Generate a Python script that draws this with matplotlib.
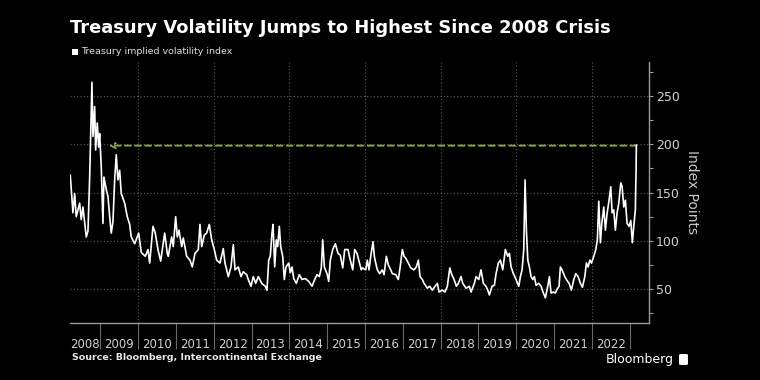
import matplotlib
matplotlib.use('Agg')
import matplotlib.pyplot as plt
from matplotlib.ticker import FixedLocator, NullFormatter, FixedFormatter
from matplotlib.patches import FancyBboxPatch, Rectangle

# ---- data (decimal year, index points) ----
years = [
    2008.207, 2008.278, 2008.323, 2008.365, 2008.455, 2008.497, 2008.542, 2008.630, 2008.675, 2008.720,
    2008.780, 2008.807, 2008.852, 2008.878, 2008.921, 2008.958, 2008.984, 2009.026, 2009.071, 2009.098,
    2009.159, 2009.204, 2009.249, 2009.291, 2009.336, 2009.381, 2009.423, 2009.468, 2009.513, 2009.555,
    2009.645, 2009.714, 2009.778, 2009.820, 2009.910, 2010.016, 2010.084, 2010.190, 2010.262, 2010.307,
    2010.394, 2010.455, 2010.526, 2010.598, 2010.703, 2010.772, 2010.799, 2010.888, 2010.931, 2010.994,
    2011.037, 2011.082, 2011.153, 2011.195, 2011.285, 2011.373, 2011.433, 2011.505, 2011.592, 2011.637,
    2011.682, 2011.751, 2011.814, 2011.883, 2011.947, 2012.015, 2012.079, 2012.166, 2012.253, 2012.298,
    2012.386, 2012.457, 2012.518, 2012.563, 2012.650, 2012.721, 2012.782, 2012.872, 2012.914, 2012.986,
    2013.047, 2013.110, 2013.179, 2013.269, 2013.364, 2013.409, 2013.454, 2013.496, 2013.541, 2013.568,
    2013.613, 2013.655, 2013.692, 2013.735, 2013.771, 2013.824, 2013.867, 2013.912, 2013.983, 2014.025,
    2014.070, 2014.115, 2014.184, 2014.264, 2014.335, 2014.422, 2014.512, 2014.599, 2014.671, 2014.731,
    2014.793, 2014.845, 2014.882, 2014.925, 2014.996, 2015.041, 2015.083, 2015.147, 2015.216, 2015.287,
    2015.348, 2015.412, 2015.464, 2015.551, 2015.612, 2015.676, 2015.729, 2015.790, 2015.835, 2015.903,
    2015.930, 2016.020, 2016.062, 2016.107, 2016.152, 2016.212, 2016.247, 2016.284, 2016.326, 2016.390,
    2016.459, 2016.504, 2016.565, 2016.618, 2016.681, 2016.723, 2016.813, 2016.882, 2016.927, 2016.988,
    2017.033, 2017.078, 2017.147, 2017.210, 2017.297, 2017.358, 2017.411, 2017.456, 2017.517, 2017.562,
    2017.649, 2017.713, 2017.781, 2017.853, 2017.914, 2017.959, 2018.046, 2018.117, 2018.178, 2018.242,
    2018.295, 2018.355, 2018.416, 2018.469, 2018.540, 2018.585, 2018.672, 2018.760, 2018.805, 2018.892,
    2018.937, 2019.008, 2019.069, 2019.130, 2019.201, 2019.246, 2019.289, 2019.360, 2019.421, 2019.466,
    2019.527, 2019.580, 2019.643, 2019.712, 2019.775, 2019.818, 2019.863, 2019.924, 2019.995, 2020.067,
    2020.109, 2020.154, 2020.198, 2020.233, 2020.268, 2020.305, 2020.347, 2020.392, 2020.437, 2020.479,
    2020.524, 2020.595, 2020.656, 2020.717, 2020.770, 2020.833, 2020.876, 2020.920, 2020.981, 2021.034,
    2021.079, 2021.132, 2021.167, 2021.211, 2021.283, 2021.326, 2021.397, 2021.458, 2021.521, 2021.574,
    2021.635, 2021.696, 2021.749, 2021.813, 2021.855, 2021.900, 2021.945, 2021.987, 2022.050, 2022.103,
    2022.145, 2022.182, 2022.225, 2022.262, 2022.314, 2022.357, 2022.401, 2022.454, 2022.499, 2022.534,
    2022.578, 2022.621, 2022.666, 2022.711, 2022.764, 2022.799, 2022.843, 2022.886, 2022.930, 2022.983,
    2023.028, 2023.070, 2023.107, 2023.149, 2023.168, 2023.176,
]
values = [
    168, 129, 149, 125, 139, 122, 135, 104, 110, 166,
    264, 208, 239, 194, 222, 197, 211, 177, 118, 166,
    153, 146, 125, 108, 120, 163, 189, 163, 173, 149,
    139, 125, 117, 104, 97, 108, 88, 84, 91, 77,
    115, 108, 91, 79, 108, 87, 84, 104, 94, 125,
    104, 111, 94, 103, 84, 80, 73, 87, 91, 117,
    94, 106, 108, 117, 101, 91, 80, 77, 92, 77,
    63, 73, 96, 70, 73, 63, 68, 65, 60, 53,
    63, 56, 63, 56, 53, 49, 80, 84, 108, 117,
    73, 101, 94, 115, 94, 84, 60, 73, 77, 67,
    73, 61, 56, 65, 60, 61, 58, 53, 60, 65,
    63, 72, 101, 73, 66, 58, 80, 91, 97, 87,
    85, 72, 91, 91, 80, 70, 91, 87, 80, 70,
    72, 70, 80, 70, 84, 99, 84, 77, 70, 66,
    70, 65, 84, 75, 70, 66, 65, 60, 72, 91,
    84, 82, 77, 72, 70, 73, 80, 63, 60, 56,
    51, 53, 49, 53, 56, 47, 49, 47, 53, 72,
    65, 60, 53, 56, 63, 56, 51, 53, 47, 56,
    63, 60, 70, 56, 53, 49, 44, 53, 54, 66,
    77, 80, 70, 91, 84, 87, 73, 66, 60, 53,
    63, 70, 91, 163, 111, 80, 73, 63, 60, 63,
    54, 56, 53, 46, 41, 53, 63, 46, 47, 46,
    50, 53, 73, 70, 63, 60, 56, 49, 60, 66,
    63, 56, 52, 63, 77, 73, 80, 77, 84, 91,
    101, 141, 98, 118, 135, 111, 128, 142, 156, 129,
    132, 111, 129, 139, 160, 156, 135, 142, 118, 115,
    121, 98, 115, 132, 173, 199,
]
year_labels = [str(y) for y in range(2008, 2023)]
year_bounds = list(range(2009, 2024))
grid_years = list(range(2010, 2023, 2))
y_ticks = [50, 100, 150, 200, 250]
y_minor = [25, 75, 125, 175, 225, 275]
arrow_level = 198.5
arrow_start = 2009.22

# ---- figure ----
W, H = 760, 380
fig = plt.figure(figsize=(W / 100, H / 100), dpi=100, facecolor='black')
ax = fig.add_axes([70 / W, 57 / H, 579 / W, 261 / H])
ax.set_facecolor('black')

x0, x1 = 2008.20, 2023.51
ax.set_xlim(x0, x1)
ax.set_ylim(15, 285)

# grid
for g in grid_years:
    ax.axvline(g, color='#5a5a5a', lw=0.8, ls=(0, (1, 2)), zorder=1)
for t in y_ticks:
    ax.axhline(t, color='#5a5a5a', lw=0.8, ls=(0, (1, 2)), zorder=1)

ax.plot(years, values, color='white', lw=1.2, zorder=3)

ax.annotate('', xy=(arrow_start, arrow_level), xytext=(years[-1], arrow_level),
            arrowprops=dict(arrowstyle='->', color='#86a83a', lw=1.4,
                            linestyle=(0, (3, 2.2)), shrinkA=0, shrinkB=0,
                            mutation_scale=9), zorder=2)

# spines
for s in ['top', 'left']:
    ax.spines[s].set_visible(False)
for s in ['right', 'bottom']:
    ax.spines[s].set_color('#9a9a9a')
    ax.spines[s].set_linewidth(1.0)

# y axis on right
ax.yaxis.tick_right()
ax.yaxis.set_label_position('right')
ax.set_yticks(y_ticks)
ax.set_yticks(y_minor, minor=True)
ax.tick_params(axis='y', which='both', colors='#9a9a9a', length=3, width=0.8,
               labelsize=9, labelcolor='#d0d0d0', pad=2)
ax.set_ylabel('Index Points', rotation=270, color='#c8c8c8', fontsize=10, labelpad=14)

# x axis: boundary ticks and centered labels
ax.xaxis.set_major_locator(FixedLocator(year_bounds))
ax.xaxis.set_major_formatter(NullFormatter())
label_pos = [((max(x0, y) + y + 1) / 2) if y == 2008 else y + 0.5 for y in range(2008, 2023)]
ax.xaxis.set_minor_locator(FixedLocator(label_pos))
ax.xaxis.set_minor_formatter(FixedFormatter(year_labels))
ax.tick_params(axis='x', which='major', colors='#6a6a6a', length=19, width=0.8)
ax.tick_params(axis='x', which='minor', length=0, labelsize=8.5, labelcolor='#d0d0d0', pad=11)

# texts
fig.text(70 / W, 1 - 28 / H, 'Treasury Volatility Jumps to Highest Since 2008 Crisis',
         color='white', fontsize=12.9, fontweight='bold', va='center', ha='left')
fig.patches.append(Rectangle((72 / W, 1 - 55 / H), 6 / W, 6 / H, transform=fig.transFigure,
                             facecolor='white', edgecolor='none'))
fig.text(81 / W, 1 - 52 / H, 'Treasury implied volatility index', color='#e0e0e0',
         fontsize=6.8, va='center', ha='left')
fig.text(72 / W, 1 - 358 / H, 'Source: Bloomberg, Intercontinental Exchange', color='#e8e8e8',
         fontsize=6.8, fontweight='bold', va='center', ha='left')
fig.text(674 / W, 1 - 359 / H, 'Bloomberg', color='white', fontsize=9, va='center', ha='right')
fig.patches.append(FancyBboxPatch((679 / W, 1 - 365 / H), 9 / W, 11 / H,
                                  boxstyle='round,pad=0,rounding_size=0.003',
                                  transform=fig.transFigure, facecolor='white', edgecolor='none'))

fig.savefig('out.png', dpi=100, facecolor='black')
